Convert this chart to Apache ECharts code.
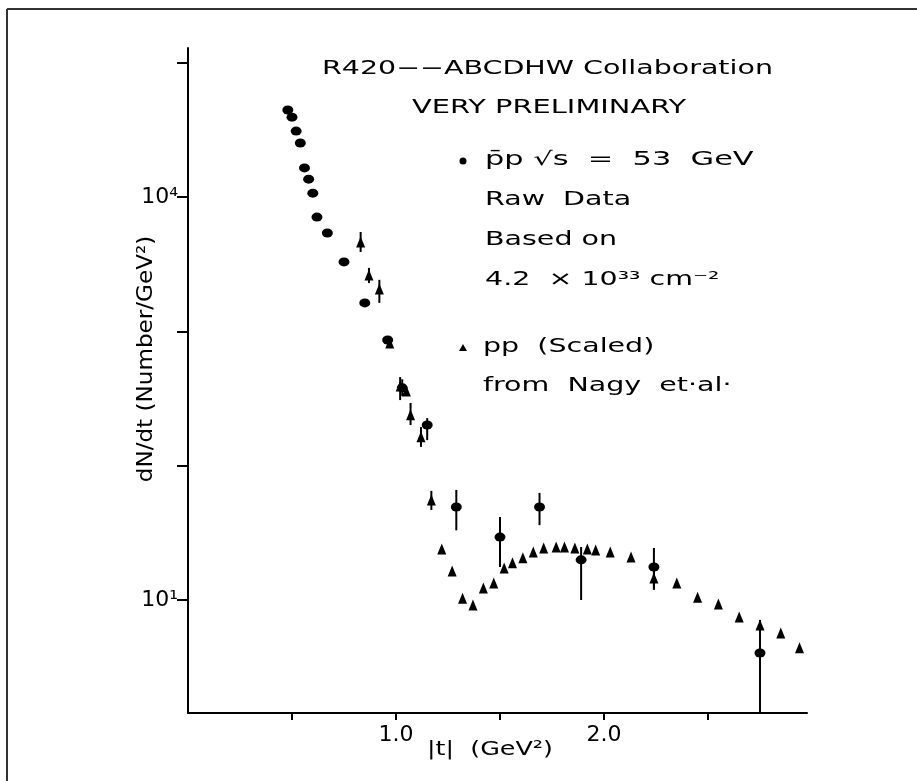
<!DOCTYPE html>
<html>
<head>
<meta charset="utf-8">
<script src="https://cdn.jsdelivr.net/npm/echarts@6/dist/echarts.min.js"></script>
<style>
  html, body { margin: 0; padding: 0; background: #fff; }
  #chart { width: 917px; height: 781px; }
</style>
</head>
<body>
<div id="chart"></div>
<script>
// pbar-p points (filled ellipses), |t| in GeV^2, dN/dt
const pbarT = [0.48, 0.50, 0.52, 0.54, 0.56, 0.58, 0.60, 0.62, 0.67, 0.75, 0.85, 0.96, 1.03, 1.15, 1.29, 1.50, 1.69, 1.89, 2.24, 2.75];
const pbarY = [44500, 39400, 31000, 25300, 16500, 13600, 10700, 7100, 5400, 3290, 1630, 863, 380, 201, 49.2, 29.4, 49.2, 19.9, 17.6, 4.03];
const pbarLo = [null, null, null, null, null, null, null, null, null, null, null, null, 330, 155, 33, 17.6, 36.1, 10, 11.9, 1.45];
const pbarHi = [null, null, null, null, null, null, null, null, null, null, null, null, 440, 226, 66, 41.5, 62.7, 24.8, 24.4, 7.1];

// pp points (scaled, from Nagy et al.) - triangles
const ppT = [0.83, 0.87, 0.92, 0.97, 1.02, 1.05, 1.07, 1.12, 1.17, 1.22, 1.27, 1.32, 1.37, 1.42, 1.47, 1.52, 1.56, 1.61, 1.66, 1.71, 1.77, 1.81, 1.86, 1.92, 1.96, 2.03, 2.13, 2.24, 2.35, 2.45, 2.55, 2.65, 2.75, 2.85, 2.94];
const ppY = [4630, 2630, 2070, 820, 392, 360, 239, 164, 55.6, 24.0, 16.4, 10.3, 9.18, 12.3, 13.4, 17.3, 18.9, 20.6, 22.8, 24.4, 24.8, 24.8, 24.4, 24.0, 23.6, 22.8, 20.9, 14.6, 13.4, 10.5, 9.34, 7.47, 6.52, 5.68, 4.40];
const ppLo = [3900, 2290, 1630, null, 308, null, 201, 138, 46.8, null, null, null, null, null, null, null, null, null, null, null, null, null, null, null, null, null, null, 12, null, null, null, null, null, null, null];
const ppHi = [5500, 2970, 2420, null, 457, null, 293, 194, 64.9, null, null, null, null, null, null, null, null, null, null, null, null, null, null, null, null, null, null, 17, null, null, null, null, null, null, null];

// axis ticks and labels
const xTicks = [0.5, 1.0, 1.5, 2.0, 2.5];
const xLabels = [1.0, 2.0];
const yTicks = [10, 100, 1000, 10000, 100000];
const yLabelValues = [10, 10000];
const yLabelTexts = ['10¹', '10⁴'];

const ink = '#000';
const font = 'DejaVu Sans';

function pairs(t, y) {
  return t.map((x, i) => [x, y[i]]);
}

function errorBars(t, lo, hi) {
  const data = [];
  t.forEach((x, i) => {
    if (lo[i] != null) data.push([x, lo[i], hi[i]]);
  });
  return {
    type: 'custom',
    data: data,
    encode: { x: 0, y: [1, 2] },
    z: 1,
    renderItem(params, api) {
      const a = api.coord([api.value(0), api.value(1)]);
      const b = api.coord([api.value(0), api.value(2)]);
      return {
        type: 'line',
        shape: { x1: a[0], y1: a[1], x2: b[0], y2: b[1] },
        style: { stroke: ink, lineWidth: 2 },
      };
    },
  };
}

// plotter-style lettering is much wider than DejaVu, so stretch it
function txt(x, y, text, size, sx, rot) {
  return {
    type: 'text',
    x: x,
    y: y,
    scaleX: sx || 1.5,
    rotation: rot || 0,
    style: {
      text: text,
      font: size + 'px "' + font + '"',
      fill: ink,
      align: rot ? 'center' : 'left',
      verticalAlign: 'middle',
    },
  };
}

const chart = echarts.init(document.getElementById('chart'));
const option = {
  backgroundColor: '#fff',
  animation: false,
  grid: { left: 188, right: 110, top: 48, bottom: 68 },
  xAxis: {
    type: 'value',
    min: 0,
    max: 2.976,
    axisLine: { lineStyle: { color: ink, width: 2 } },
    axisTick: { customValues: xTicks, length: 7, lineStyle: { color: ink, width: 2 } },
    axisLabel: {
      customValues: xLabels,
      formatter: (v) => v.toFixed(1),
      color: ink, fontSize: 22, fontFamily: font, margin: 11,
    },
    splitLine: { show: false },
  },
  yAxis: {
    type: 'log',
    logBase: 10,
    min: 1.44,
    max: 128900,
    axisLine: { show: true, lineStyle: { color: ink, width: 2 } },
    axisTick: { show: true, customValues: yTicks, length: 11, lineStyle: { color: ink, width: 2 } },
    axisLabel: {
      customValues: yLabelValues,
      formatter: (v) => {
        const i = yLabelValues.findIndex((u) => Math.abs(u - v) / u < 1e-6);
        return i >= 0 ? yLabelTexts[i] : '';
      },
      color: ink, fontSize: 22, fontFamily: font, margin: 10,
    },
    splitLine: { show: false },
    minorTick: { show: false },
  },
  series: [
    errorBars(pbarT, pbarLo, pbarHi),
    errorBars(ppT, ppLo, ppHi),
    {
      name: 'pbar p',
      type: 'scatter',
      symbol: 'circle',
      symbolSize: [11, 9],
      itemStyle: { color: ink, opacity: 1 },
      data: pairs(pbarT, pbarY),
      z: 3,
    },
    {
      name: 'pp',
      type: 'scatter',
      symbol: 'triangle',
      symbolSize: [9, 11],
      itemStyle: { color: ink, opacity: 1 },
      data: pairs(ppT, ppY),
      z: 3,
    },
  ],
  graphic: [
    // page frame (left and top edges of the scanned sheet)
    { type: 'line', shape: { x1: 7, y1: 9, x2: 7, y2: 781 }, style: { stroke: '#333', lineWidth: 2 } },
    { type: 'line', shape: { x1: 7, y1: 9, x2: 917, y2: 9 }, style: { stroke: '#333', lineWidth: 2 } },
    // axis titles
    txt(147, 359, 'dN/dt (Number/GeV²)', 21, 1.1, Math.PI / 2),
    txt(427, 750, '|t|  (GeV²)', 20, 1.27),
    // annotation block
    txt(322, 69, 'R420−−ABCDHW Collaboration', 19, 1.5),
    txt(412, 108, 'VERY PRELIMINARY', 19, 1.52),
    { type: 'circle', shape: { cx: 463, cy: 161, r: 3.5 }, style: { fill: ink } },
    txt(485, 160, 'p\u0304p √s  =  53  GeV', 19, 1.6),
    txt(485, 200, 'Raw  Data', 19, 1.5),
    txt(485, 240, 'Based on', 19, 1.5),
    txt(485, 280, '4.2  × 10³³ cm⁻²', 19, 1.5),
    { type: 'polygon', shape: { points: [[459, 351], [467, 351], [463, 344]] }, style: { fill: ink } },
    txt(483, 347, 'pp  (Scaled)', 19, 1.5),
    txt(483, 386, 'from  Nagy  et·al·', 19, 1.5),
  ],
};
chart.setOption(option);
</script>
</body>
</html>
